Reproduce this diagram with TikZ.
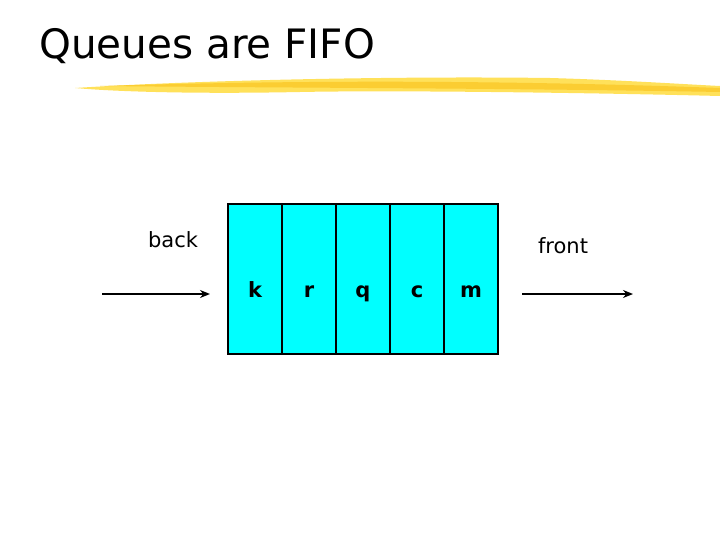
\documentclass[tikz,border=0pt]{standalone}
\usetikzlibrary{arrows.meta}
\usepackage{fontspec}
\setmainfont{DejaVu Sans}
\definecolor{aqua}{RGB}{0,255,255}
\definecolor{brush}{RGB}{250,200,40}
\definecolor{brushl}{RGB}{255,225,90}
\begin{document}
\begin{tikzpicture}[x=1pt,y=-1pt,
  cell/.style={draw=black,line width=2.2pt,fill=aqua,minimum width=54pt,minimum height=150pt,inner sep=0pt},
  lbl/.style={font=\fontsize{21}{25}\selectfont},
  arr/.style={line width=2.8pt,-{Stealth[length=10pt,width=8pt]}}]
\useasboundingbox (0,0) rectangle (720,540);
\node[anchor=west,font=\fontsize{40.5}{48}\selectfont,inner sep=0pt] (title) at (39,46) {Queues are FIFO};
\fill[brushl] (75,88) .. controls (200,80) and (400,76) .. (550,78) .. controls (620,80) and (680,84) .. (720,86) -- (720,96) .. controls (600,93) and (400,90) .. (300,92) .. controls (200,94) and (120,92) .. (75,88) -- cycle;
\fill[brush,opacity=0.8] (100,86) .. controls (300,80) and (500,80) .. (720,88) -- (720,92) .. controls (500,88) and (300,88) .. (100,86) -- cycle;
\foreach \i/\t in {0/k,1/r,2/q,3/c,4/m}{
  \node[cell] (c\i) at (255+54*\i,279) {};
  \node[lbl,anchor=base,font=\bfseries\fontsize{21}{25}\selectfont] (t\i) at (255+54*\i,297) {\t};
}
\node[lbl] (back) at (173,240) {back};
\node[lbl] (front) at (563,246) {front};
\coordinate (a1) at (102,294);
\coordinate (a2) at (210,294);
\coordinate (b1) at (522,294);
\coordinate (b2) at (633,294);
\draw[arr] (a1) -- (a2);
\draw[arr] (b1) -- (b2);
\end{tikzpicture}
\end{document}
